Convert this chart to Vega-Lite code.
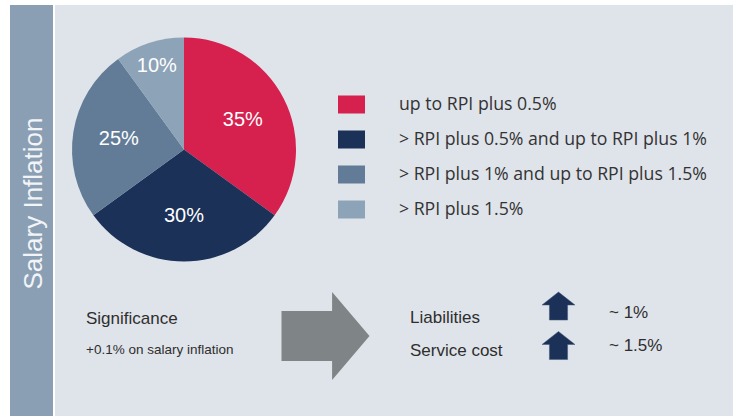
{
  "$schema": "https://vega.github.io/schema/vega-lite/v6.json",
  "width": 733,
  "height": 416,
  "autosize": {"type": "fit", "contains": "padding"},
  "padding": 0,
  "background": "#ffffff",
  "config": {"view": {"stroke": null}},
  "datasets": {
    "shares": [
      {"band": "up to RPI plus 0.5%", "share": 0.35, "rank": 1},
      {"band": "> RPI plus 0.5% and up to RPI plus 1%", "share": 0.30, "rank": 2},
      {"band": "> RPI plus 1% and up to RPI plus 1.5%", "share": 0.25, "rank": 3},
      {"band": "> RPI plus 1.5%", "share": 0.10, "rank": 4}
    ]
  },
  "layer": [
    {
      "data": {"values": [{}]},
      "mark": {"type": "rect", "x": 10, "x2": 53, "y": 5, "y2": 416, "fill": "#8a9fb4"},
      "encoding": {}
    },
    {
      "data": {"values": [{}]},
      "mark": {"type": "rect", "x": 55, "x2": 733, "y": 5, "y2": 416, "fill": "#dfe3ea"},
      "encoding": {}
    },
    {
      "data": {"values": [{}]},
      "mark": {"type": "text", "text": "Salary Inflation", "x": 42, "y": 203.5, "angle": 270, "align": "center", "baseline": "alphabetic", "fontSize": 26, "font": "Liberation Sans", "fill": "#f2f4f7"},
      "encoding": {}
    },
    {
      "data": {"name": "shares"},
      "mark": {"type": "arc", "x": 184, "y": 149.5, "outerRadius": 112},
      "encoding": {
        "theta": {"field": "share", "type": "quantitative", "stack": true},
        "order": {"field": "rank", "type": "quantitative"},
        "color": {
          "field": "band",
          "type": "nominal",
          "scale": {
            "domain": ["up to RPI plus 0.5%", "> RPI plus 0.5% and up to RPI plus 1%", "> RPI plus 1% and up to RPI plus 1.5%", "> RPI plus 1.5%"],
            "range": ["#d6204e", "#1b3158", "#627c97", "#8da3b8"]
          },
          "legend": {
            "title": null,
            "orient": "none",
            "legendX": 338,
            "legendY": 91,
            "padding": 0,
            "symbolType": "M-1,-0.667H1V0.667H-1Z",
            "symbolSize": 729,
            "symbolStrokeWidth": 0,
            "symbolOpacity": 1,
            "labelFont": "Open Sans",
            "labelFontSize": 17.7,
            "labelColor": "#333333",
            "labelOffset": 34,
            "labelLimit": 0,
            "rowPadding": 12
          }
        }
      }
    },
    {
      "data": {"name": "shares"},
      "mark": {"type": "text", "x": 184, "y": 149.5, "radius": 66, "fontSize": 20, "font": "Liberation Sans", "fill": "#ffffff", "align": "center", "baseline": "middle"},
      "encoding": {
        "theta": {"field": "share", "type": "quantitative", "stack": true},
        "order": {"field": "rank", "type": "quantitative"},
        "detail": {"field": "band", "type": "nominal"},
        "text": {"condition": {"test": "datum.rank == 4", "value": ""}, "field": "share", "type": "quantitative", "format": ".0%"}
      }
    },
    {
      "data": {"name": "shares"},
      "mark": {"type": "text", "x": 184, "y": 149.5, "radius": 88, "fontSize": 20, "font": "Liberation Sans", "fill": "#ffffff", "align": "center", "baseline": "middle"},
      "encoding": {
        "theta": {"field": "share", "type": "quantitative", "stack": true},
        "order": {"field": "rank", "type": "quantitative"},
        "detail": {"field": "band", "type": "nominal"},
        "text": {"condition": {"test": "datum.rank != 4", "value": ""}, "field": "share", "type": "quantitative", "format": ".0%"}
      }
    },
    {
      "data": {"values": [{}]},
      "mark": {"type": "text", "text": "Significance", "x": 86, "y": 324, "align": "left", "baseline": "alphabetic", "fontSize": 17, "font": "Liberation Sans", "fill": "#2e2e2e"},
      "encoding": {}
    },
    {
      "data": {"values": [{}]},
      "mark": {"type": "text", "text": "+0.1% on salary inflation", "x": 86, "y": 354, "align": "left", "baseline": "alphabetic", "fontSize": 13.5, "font": "Liberation Sans", "fill": "#2e2e2e"},
      "encoding": {}
    },
    {
      "data": {"values": [{}]},
      "mark": {"type": "point", "shape": "M-1,-0.57H0.15V-1L1,0L0.15,1V0.57H-1Z", "x": 325.5, "y": 336, "size": 7744, "filled": true, "fill": "#7f8486", "opacity": 1, "strokeWidth": 0},
      "encoding": {}
    },
    {
      "data": {"values": [{}]},
      "mark": {"type": "text", "text": "Liabilities", "x": 410, "y": 323, "align": "left", "baseline": "alphabetic", "fontSize": 17, "font": "Liberation Sans", "fill": "#2e2e2e"},
      "encoding": {}
    },
    {
      "data": {"values": [{}]},
      "mark": {"type": "text", "text": "Service cost", "x": 410, "y": 356, "align": "left", "baseline": "alphabetic", "fontSize": 17, "font": "Liberation Sans", "fill": "#2e2e2e"},
      "encoding": {}
    },
    {
      "data": {"values": [{}]},
      "mark": {"type": "point", "shape": "M0,-0.85L1,-0.06H0.55V0.85H-0.55V-0.06H-1Z", "x": 558.5, "y": 306, "size": 1089, "filled": true, "fill": "#1b3158", "opacity": 1, "stroke": "#44597a", "strokeWidth": 0.5},
      "encoding": {}
    },
    {
      "data": {"values": [{}]},
      "mark": {"type": "point", "shape": "M0,-0.85L1,-0.06H0.55V0.85H-0.55V-0.06H-1Z", "x": 558.5, "y": 345.5, "size": 1089, "filled": true, "fill": "#1b3158", "opacity": 1, "stroke": "#44597a", "strokeWidth": 0.5},
      "encoding": {}
    },
    {
      "data": {"values": [{}]},
      "mark": {"type": "text", "text": "~ 1%", "x": 609, "y": 318, "align": "left", "baseline": "alphabetic", "fontSize": 17, "font": "Liberation Sans", "fill": "#2e2e2e"},
      "encoding": {}
    },
    {
      "data": {"values": [{}]},
      "mark": {"type": "text", "text": "~ 1.5%", "x": 609, "y": 351, "align": "left", "baseline": "alphabetic", "fontSize": 17, "font": "Liberation Sans", "fill": "#2e2e2e"},
      "encoding": {}
    }
  ]
}
